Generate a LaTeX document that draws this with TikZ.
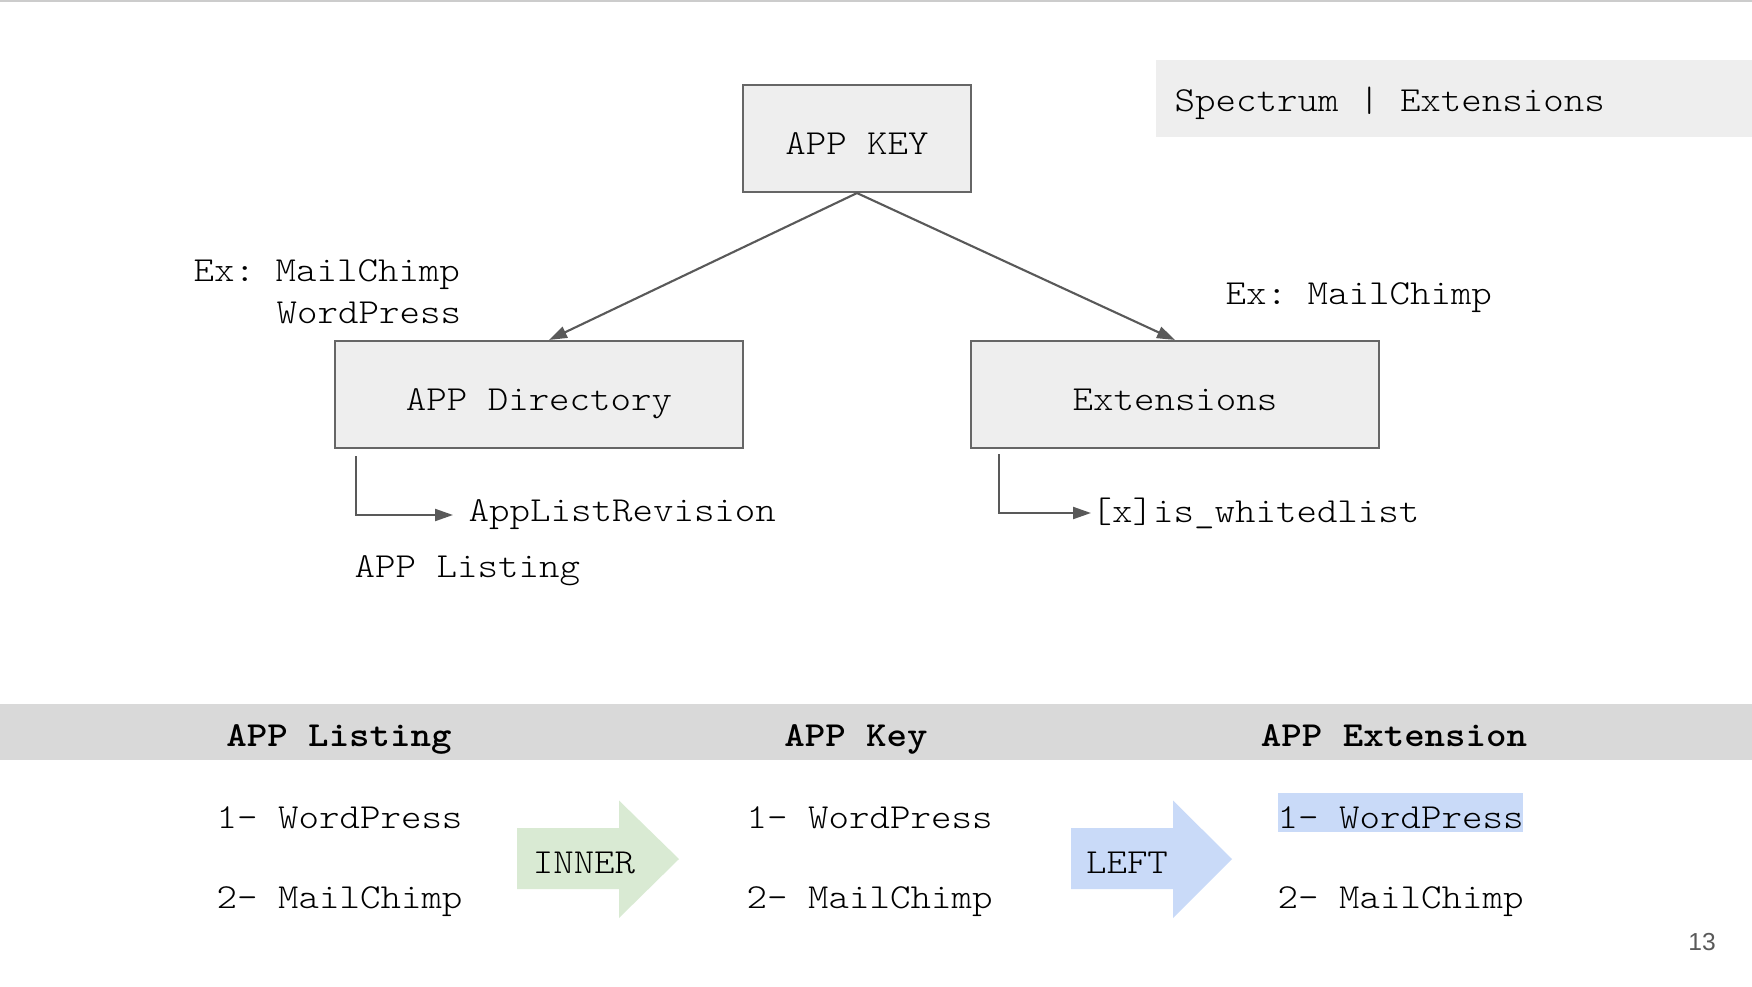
\documentclass[tikz,border=0pt]{standalone}
\usepackage{fontspec}
\setmonofont{lmmonolt10-regular.otf}[BoldFont=lmmonolt10-bold.otf,FakeStretch=1.11]
\newfontfamily\pagefont{Liberation Sans}
\usetikzlibrary{arrows.meta}
\definecolor{boxgray}{HTML}{EEEEEE}
\definecolor{linegray}{HTML}{666666}
\definecolor{arrowgray}{HTML}{595959}
\definecolor{bandgray}{HTML}{D9D9D9}
\definecolor{topgray}{HTML}{CCCCCC}
\definecolor{innergreen}{HTML}{D9EAD3}
\definecolor{leftblue}{HTML}{C9DAF8}
\newcommand\slidefont{\ttfamily\fontsize{10}{12}\selectfont}
\tikzset{
	box/.style={draw=linegray,fill=boxgray,line width=0.6pt,minimum height=1.07cm,text height=0.31cm,text depth=0pt},
	txt/.style={inner sep=0pt},
	hdr/.style={txt,anchor=base,font=\slidefont\bfseries},
	conn/.style={draw=arrowgray,line width=0.6pt,-{Triangle[length=1.8mm,width=1.2mm]}},
	hilite/.style={fill=leftblue,inner xsep=0pt,inner ysep=0.04cm,text height=0.31cm,text depth=0pt},
}
\begin{document}
\begin{tikzpicture}[font=\slidefont]
	\useasboundingbox (0,0) rectangle (17.52,9.86);
	\fill[topgray](0,9.84)rectangle(17.52,9.86);
	\node[fill=boxgray,anchor=north west,minimum width=5.97cm,minimum height=0.77cm,inner sep=0pt](spectrumbox)at(11.55,9.27){};
	\node[txt,anchor=base west](spectrum)at(11.74,8.75){Spectrum \makebox[\fontcharwd\font`A]{|} Extensions};
	\node[box,minimum width=2.28cm](key)at(8.57,8.475){APP KEY};
	\node[box,minimum width=4.08cm](dir)at(5.39,5.915){APP Directory};
	\node[box,minimum width=4.08cm](ext)at(11.75,5.915){Extensions};
	\draw[conn](key.south)--([xshift=1mm]dir.north);
	\draw[conn](key.south)--(ext.north);
	\node[txt,anchor=base west](exdir)at(1.93,7.05){Ex: MailChimp};
	\node[txt,anchor=base west](exdirb)at(2.76,6.63){WordPress};
	\node[txt,anchor=base west](exext)at(12.25,6.82){Ex: MailChimp};
	\coordinate(dirtap)at(3.56,5.30);
	\node[txt,anchor=west,inner xsep=1.5mm](revision)at(4.53,4.71){AppListRevision};
	\draw[conn](dirtap)|-(revision.west);
	\node[txt,anchor=base west](listing)at(3.54,4.09){APP Listing};
	\coordinate(exttap)at(9.99,5.32);
	\node[txt,anchor=west](white)at(10.91,4.73){[x]is\_whitedlist};
	\draw[conn](exttap)|-(white.west);
	\node[fill=bandgray,minimum width=17.52cm,minimum height=0.56cm,inner sep=0pt](band)at(8.76,2.54){};
	\node[hdr](hlisting)at(3.39,2.40){APP Listing};
	\node[hdr](hkey)at(8.56,2.40){APP Key};
	\node[hdr](hext)at(13.94,2.40){APP Extension};
	\node[txt,anchor=base west](listword)at(2.16,1.58){1- WordPress};
	\node[txt,anchor=base west](listmail)at(2.16,0.78){2- MailChimp};
	\node[txt,anchor=base west](keyword)at(7.46,1.58){1- WordPress};
	\node[txt,anchor=base west](keymail)at(7.46,0.78){2- MailChimp};
	\node[txt,hilite,anchor=base west](extword)at(12.77,1.58){1- WordPress};
	\node[txt,anchor=base west](extmail)at(12.77,0.78){2- MailChimp};
	\fill[innergreen](5.17,1.58)--(6.19,1.58)--(6.19,1.855)--(6.79,1.27)--(6.19,0.68)--(6.19,0.97)--(5.17,0.97)--cycle;
	\node[txt,anchor=base](inner)at(5.84,1.13){INNER};
	\fill[leftblue](10.71,1.58)--(11.73,1.58)--(11.73,1.855)--(12.32,1.27)--(11.73,0.68)--(11.73,0.97)--(10.71,0.97)--cycle;
	\node[txt,anchor=base](left)at(11.27,1.13){LEFT};
	\node[txt,anchor=base,font=\pagefont\fontsize{7}{8}\selectfont,text=arrowgray](page)at(17.02,0.36){13};
\end{tikzpicture}
\end{document}
